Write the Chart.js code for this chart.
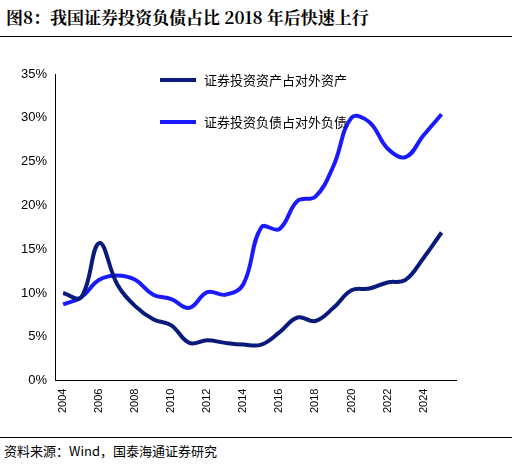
<!DOCTYPE html><html><head><meta charset="utf-8">
<script src="https://cdn.jsdelivr.net/npm/chart.js@4"></script>
<style>body{margin:0;background:#fff;width:512px;height:466px;position:relative;font-family:"Noto Sans CJK SC";}
#t{position:absolute;left:6px;top:4px;font-size:17px;font-weight:bold;font-family:"Noto Serif CJK SC","Noto Sans CJK SC";}
#l1{position:absolute;left:0;top:36px;width:512px;border-top:1.5px solid #000;}
#l2{position:absolute;left:0;top:437px;width:512px;border-top:1px solid #000;}
#s{position:absolute;left:4px;top:441px;font-size:13px;}
#w{position:absolute;left:0;top:50px;width:466px;height:366px;}</style></head><body>
<div id="t">图8：我国证券投资负债占比 2018 年后快速上行</div><div id="l1"></div>
<div id="w"><canvas id="c"></canvas></div><div id="l2"></div>
<div id="s">资料来源：Wind，国泰海通证券研究</div>
<script>
const years=[2004,2005,2006,2007,2008,2009,2010,2011,2012,2013,2014,2015,2016,2017,2018,2019,2020,2021,2022,2023,2024,2025];
const assets=[10,9.5,15.7,11,8.5,7,6.3,4.3,4.6,4.3,4.1,4.1,5.5,7.2,6.8,8.3,10.3,10.5,11.2,11.5,14,16.9];
const liabs=[8.7,9.5,11.5,12,11.5,9.8,9.3,8.3,10.1,9.8,11,17.5,17.3,20.5,21,24.5,30,29.5,26.5,25.5,28,30.4];
const xTicks=[2004,2006,2008,2010,2012,2014,2016,2018,2020,2022,2024];
const names=['证券投资资产占对外资产','证券投资负债占对外负债'];
const leg={id:'leg',afterDraw(ch){const c=ch.ctx;const cols=['#0a1a7a','#1a1aff'];[30,72].forEach((y,i)=>{c.strokeStyle=cols[i];c.lineWidth=4;c.beginPath();c.moveTo(160,y);c.lineTo(196,y);c.stroke();c.fillStyle='#000';c.font='13px "Noto Sans CJK SC"';c.textBaseline='middle';c.fillText(names[i],204,y);});}};
new Chart(document.getElementById('c'),{type:'line',data:{datasets:[
{label:names[0],data:years.map((y,i)=>({x:y,y:assets[i]})),borderColor:'#0a1a7a',borderWidth:4,pointRadius:0,tension:0.4},
{label:names[1],data:years.map((y,i)=>({x:y,y:liabs[i]})),borderColor:'#1a1aff',borderWidth:4,pointRadius:0,tension:0.4}]},
options:{responsive:true,maintainAspectRatio:false,animation:false,layout:{padding:{top:24,left:18,right:10}},
plugins:{legend:{display:false},tooltip:{enabled:false}},
scales:{x:{type:'linear',min:2003.55,max:2025.8,afterBuildTicks(a){a.ticks=xTicks.map(v=>({value:v}));},
ticks:{color:'#000',font:{size:11},maxRotation:90,minRotation:90,callback:v=>String(v)},grid:{display:false,drawTicks:true,tickLength:5},border:{color:'#000'}},
y:{min:0,max:35,ticks:{stepSize:5,color:'#000',font:{size:13},callback:v=>v+'%'},grid:{display:false,tickLength:5},border:{color:'#000'}}}},plugins:[leg]});
</script></body></html>
